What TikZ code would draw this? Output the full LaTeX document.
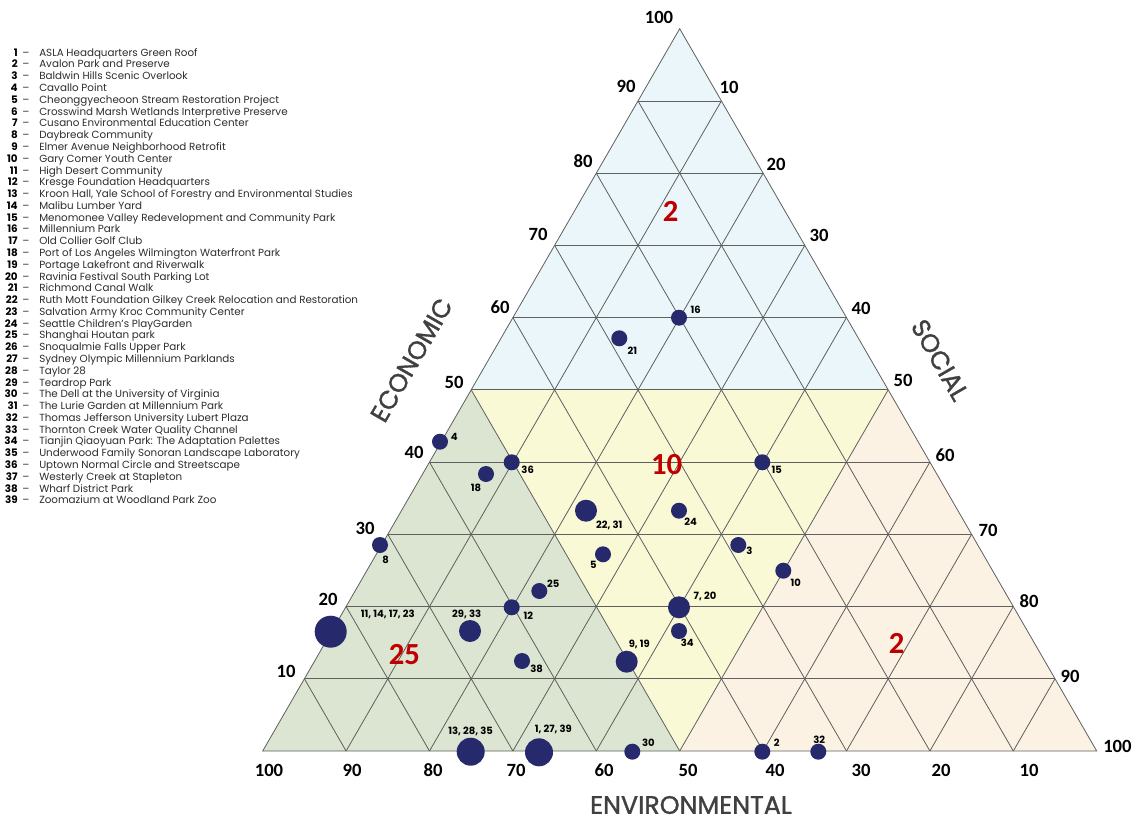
\documentclass[tikz,border=0pt]{standalone}
\usepackage{fontspec}
\setmainfont{Poppins}
\newfontfamily\axisnum{Carlito}
\newfontfamily\geo{Poppins}
\newfontfamily\geotitle{Poppins}[FakeBold=1.2]
\usetikzlibrary{calc}
\definecolor{regblue}{RGB}{234,246,250}
\definecolor{regyellow}{RGB}{250,249,214}
\definecolor{reggreen}{RGB}{220,229,209}
\definecolor{regpeach}{RGB}{252,242,227}
\definecolor{dotnavy}{RGB}{38,42,108}
\definecolor{gridgray}{RGB}{95,95,95}
\definecolor{titlegray}{RGB}{64,64,64}
\definecolor{countred}{RGB}{192,0,0}
\definecolor{legendgray}{RGB}{45,45,45}
\begin{document}
\begin{tikzpicture}[x=0.75pt,y=-0.75pt,
  gridline/.style={draw=gridgray, line width=0.6pt},
  dot/.style={circle, fill=dotnavy, inner sep=0pt, outer sep=0pt},
  one/.style={dot, minimum size=12pt},
  two/.style={dot, minimum size=16.5pt},
  three/.style={dot, minimum size=21pt},
  four/.style={dot, minimum size=24pt},
  plab/.style={font=\geo\bfseries\fontsize{7.5}{8}\selectfont, text=black, inner sep=0pt},
  ticknum/.style={font=\axisnum\bfseries\fontsize{14}{16}\selectfont, text=black, inner sep=0pt},
  countnum/.style={font=\axisnum\bfseries\fontsize{23}{26}\selectfont, text=countred, inner sep=0pt},
  axistitle/.style={font=\geotitle\fontsize{19}{22}\selectfont, text=titlegray, inner sep=0pt},
  legnum/.style={font=\geo\bfseries\fontsize{7.75}{9}\selectfont, text=black, anchor=base east, inner sep=0pt},
  legdash/.style={font=\geo\fontsize{7.75}{9}\selectfont, text=legendgray, anchor=base west, inner sep=0pt},
  legtext/.style={font=\geo\fontsize{7.75}{9}\selectfont, text=legendgray, anchor=base west, inner sep=0pt}]

\useasboundingbox (0,0) rectangle (1140,821);
\fill[white] (0,0) rectangle (1140,821);

% triangle corners and side midpoints
\coordinate (A) at (262.7,751);
\coordinate (B) at (1096.7,751);
\coordinate (C) at (679.7,28.7);
\coordinate (ML) at ($(A)!0.5!(C)$);
\coordinate (MR) at ($(B)!0.5!(C)$);
\coordinate (MB) at ($(A)!0.5!(B)$);

% coloured sub-triangles
\fill[regblue] (ML) -- (MR) -- (C) -- cycle;
\fill[reggreen] (A) -- (MB) -- (ML) -- cycle;
\fill[regyellow] (ML) -- (MR) -- (MB) -- cycle;
\fill[regpeach] (MB) -- (B) -- (MR) -- cycle;

% 10 % grid
\foreach \i in {1,...,9} {
  \draw[gridline] ($(A)!\i/10!(C)$) -- ($(B)!\i/10!(C)$);
  \draw[gridline] ($(A)!\i/10!(B)$) -- ($(C)!\i/10!(B)$);
  \draw[gridline] ($(A)!\i/10!(B)$) -- ($(A)!\i/10!(C)$);
}
\draw[gridline] (A) -- (B) -- (C) -- cycle;

% scale on the left side
\foreach \v/\x/\y in {100/659/17, 90/626/86, 80/583/161, 70/538/234, 60/500/307,
                      50/454/382, 40/414/452, 30/365/528, 20/328/599, 10/286/671}
  \node[ticknum] (left\v) at (\x,\y) {\v};
% scale on the right side
\foreach \v/\x/\y in {10/729/87, 20/776/164, 30/819/235, 40/861/308, 50/903/380,
                      60/945/455, 70/988/530, 80/1029/601, 90/1070/676}
  \node[ticknum] (right\v) at (\x,\y) {\v};
\node[ticknum, anchor=west] (right100) at (1103,746) {100};
% scale along the base
\foreach \v/\x in {100/269, 90/352, 80/433, 70/516, 60/604, 50/688, 40/775, 30/861, 20/941, 10/1029}
  \node[ticknum] (base\v) at (\x,770) {\v};

% axis titles
\node[axistitle, rotate=60] (economic) at (411.5,360) {ECONOMIC};
\node[axistitle, rotate=-60] (social) at (940,360) {SOCIAL};
\node[axistitle] (environmental) at (691,805) {ENVIRONMENTAL};

% project counts per zone
\node[countnum] (cnttop) at (670.7,211.7) {2};
\node[countnum] (cntmid) at (666.7,465) {10};
\node[countnum] (cntleft) at (404.3,654.3) {25};
\node[countnum] (cntright) at (896.7,643.3) {2};

% projects
\node[one] (p16) at (679,317.7) {};
\node[plab] (l16) at (695.7,309.3) {16};
\node[one] (p21) at (619.3,338.3) {};
\node[plab] (l21) at (632.3,350.7) {21};
\node[one] (p4) at (440,441.7) {};
\node[plab] (l4) at (454.3,437) {4};
\node[one] (p36) at (511.7,462.3) {};
\node[plab] (l36) at (527.7,470) {36};
\node[one] (p18) at (486,474) {};
\node[plab] (l18) at (476,488) {18};
\node[two] (p2231) at (586,510.7) {};
\node[plab] (l2231) at (609.3,525.7) {22, 31};
\node[one] (p24) at (679,510.7) {};
\node[plab] (l24) at (690.7,521.7) {24};
\node[one] (p15) at (762.3,462.3) {};
\node[plab] (l15) at (776.7,470) {15};
\node[one] (p5) at (603,554.3) {};
\node[plab] (l5) at (593.3,565) {5};
\node[one] (p3) at (738.3,545) {};
\node[plab] (l3) at (749.3,551) {3};
\node[one] (p10) at (783.3,570.7) {};
\node[plab] (l10) at (795.7,582.7) {10};
\node[one] (p8) at (380,545) {};
\node[plab] (l8) at (385.7,560) {8};
\node[one] (p25) at (539.3,591) {};
\node[plab] (l25) at (553.3,583.3) {25};
\node[one] (p12) at (511.7,607.3) {};
\node[plab] (l12) at (528.3,615.7) {12};
\node[two] (p720) at (679,607.3) {};
\node[plab] (l720) at (705,596) {7, 20};
\node[four] (p11141723) at (330.7,631.7) {};
\node[plab] (l11141723) at (387.7,614) {11, 14, 17, 23};
\node[two] (p2933) at (470,631) {};
\node[plab] (l2933) at (466.7,614) {29, 33};
\node[one] (p38) at (522,661) {};
\node[plab] (l38) at (536.7,669.3) {38};
\node[two] (p919) at (626.7,661.7) {};
\node[plab] (l919) at (639.3,644) {9, 19};
\node[one] (p34) at (679,631) {};
\node[plab] (l34) at (687.3,642.3) {34};
\node[three] (p132835) at (470.7,751.7) {};
\node[plab] (l132835) at (470.7,731.7) {13, 28, 35};
\node[three] (p12739) at (539,752.3) {};
\node[plab] (l12739) at (553.3,729) {1, 27, 39};
\node[one] (p30) at (632.3,751.7) {};
\node[plab] (l30) at (648.3,742.7) {30};
\node[one] (p2) at (762.3,751.7) {};
\node[plab] (l2) at (776.7,742.7) {2};
\node[one] (p32) at (818.3,751.7) {};
\node[plab] (l32) at (819.3,739.3) {32};

% legend
\foreach \t [count=\n] in {
  ASLA Headquarters Green Roof,
  Avalon Park and Preserve,
  Baldwin Hills Scenic Overlook,
  Cavallo Point,
  Cheonggyecheoon Stream Restoration Project,
  Crosswind Marsh Wetlands Interpretive Preserve,
  Cusano Environmental Education Center,
  Daybreak Community,
  Elmer Avenue Neighborhood Retrofit,
  Gary Comer Youth Center,
  High Desert Community,
  Kresge Foundation Headquarters,
  {Kroon Hall, Yale School of Forestry and Environmental Studies},
  Malibu Lumber Yard,
  Menomonee Valley Redevelopment and Community Park,
  Millennium Park,
  Old Collier Golf Club,
  Port of Los Angeles Wilmington Waterfront Park,
  Portage Lakefront and Riverwalk,
  Ravinia Festival South Parking Lot,
  Richmond Canal Walk,
  Ruth Mott Foundation Gilkey Creek Relocation and Restoration,
  Salvation Army Kroc Community Center,
  Seattle Children’s PlayGarden,
  Shanghai Houtan park,
  Snoqualmie Falls Upper Park,
  Sydney Olympic Millennium Parklands,
  Taylor 28,
  Teardrop Park,
  The Dell at the University of Virginia,
  The Lurie Garden at Millennium Park,
  Thomas Jefferson University Lubert Plaza,
  Thornton Creek Water Quality Channel,
  Tianjin Qiaoyuan Park: The Adaptation Palettes,
  Underwood Family Sonoran Landscape Laboratory,
  Uptown Normal Circle and Streetscape,
  Westerly Creek at Stapleton,
  Wharf District Park,
  Zoomazium at Woodland Park Zoo} {
  \node[legnum] (legnum\n) at (18,{56.2+(\n-1)*11.78}) {\n};
  \node[legdash] (legdash\n) at (22,{56.2+(\n-1)*11.78}) {–};
  \node[legtext] (legtext\n) at (39,{56.2+(\n-1)*11.78}) {\t};
}
\end{tikzpicture}
\end{document}
